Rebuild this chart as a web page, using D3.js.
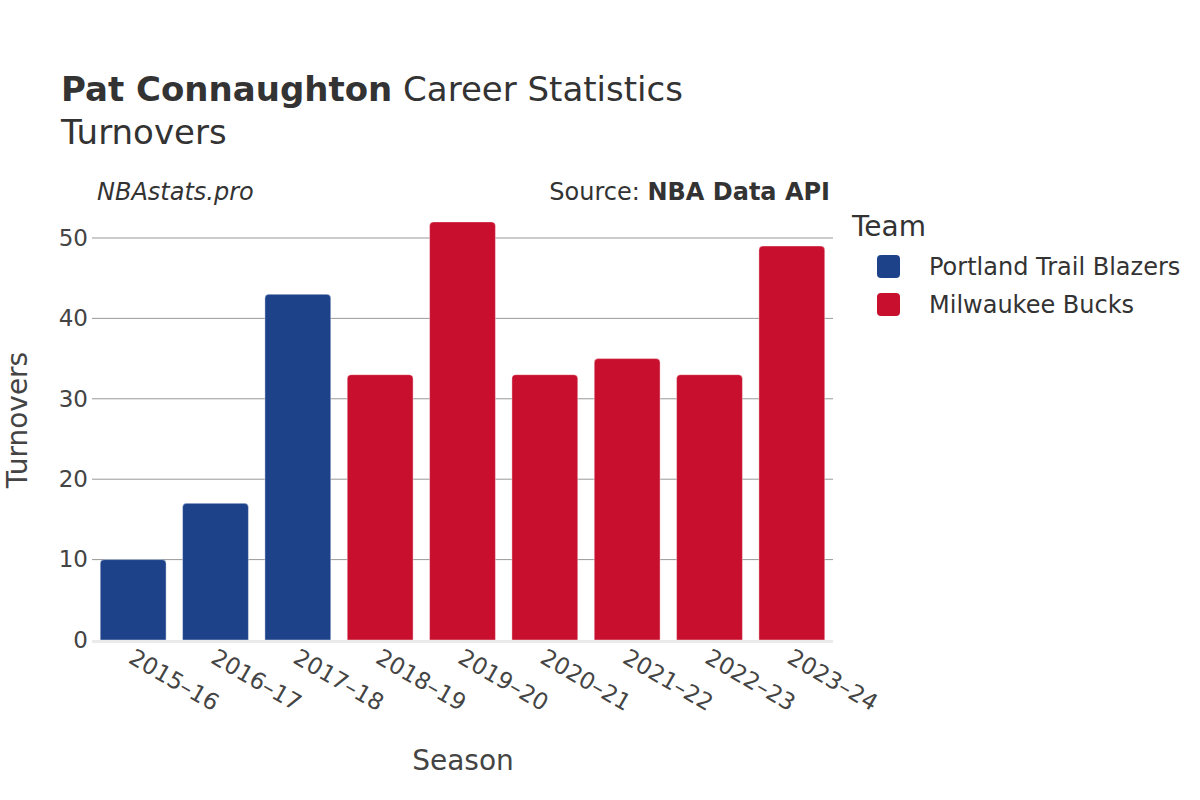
<!DOCTYPE html>
<html>
<head>
<meta charset="utf-8">
<style>
  body { margin: 0; background: #fff; }
  svg text { font-family: "DejaVu Sans", sans-serif; }
</style>
</head>
<body>
<script src="https://cdn.jsdelivr.net/npm/d3@7"></script>
<script>
// data
var seasons = ["2015–16","2016–17","2017–18","2018–19","2019–20","2020–21","2021–22","2022–23","2023–24"];
var teams = ["Portland Trail Blazers","Portland Trail Blazers","Portland Trail Blazers","Milwaukee Bucks","Milwaukee Bucks","Milwaukee Bucks","Milwaukee Bucks","Milwaukee Bucks","Milwaukee Bucks"];
var turnovers = [10, 17, 43, 33, 52, 33, 35, 33, 49];
var teamNames = ["Portland Trail Blazers", "Milwaukee Bucks"];
var teamColors = ["#1d428a", "#c8102e"];
var yTicks = [0, 10, 20, 30, 40, 50];

var width = 1200, height = 800;
var plot = {left: 92, right: 833, top: 201, bottom: 640};

var svg = d3.select("body").append("svg")
  .attr("width", width)
  .attr("height", height);

var x = d3.scaleBand().domain(seasons).range([plot.left, plot.right]).paddingInner(0.2).paddingOuter(0.1);
var y = d3.scaleLinear().domain([0, 54.6]).range([plot.bottom, plot.top]);
var color = d3.scaleOrdinal().domain(teamNames).range(teamColors);

// gridlines
svg.append("g")
  .selectAll("line")
  .data(yTicks.filter(function(d){ return d > 0; }))
  .enter().append("line")
  .attr("x1", plot.left).attr("x2", plot.right)
  .attr("y1", function(d){ return y(d); })
  .attr("y2", function(d){ return y(d); })
  .attr("stroke", "#999").attr("stroke-width", 1);

// bars, rounded top corners only
var r = 4;
function barPath(d, i) {
  var x0 = x(seasons[i]), w = x.bandwidth();
  var y0 = y(d), y1 = y(0);
  return "M" + x0 + "," + y1 +
    "V" + (y0 + r) +
    "Q" + x0 + "," + y0 + " " + (x0 + r) + "," + y0 +
    "H" + (x0 + w - r) +
    "Q" + (x0 + w) + "," + y0 + " " + (x0 + w) + "," + (y0 + r) +
    "V" + y1 + "Z";
}
svg.append("g")
  .selectAll("path")
  .data(turnovers)
  .enter().append("path")
  .attr("d", barPath)
  .attr("fill", function(d, i){ return color(teams[i]); })
  .attr("stroke", "#fff").attr("stroke-opacity", 0.4).attr("stroke-width", 1);

// zero line
svg.append("line")
  .attr("x1", plot.left).attr("x2", plot.right)
  .attr("y1", y(0) + 1.5).attr("y2", y(0) + 1.5)
  .attr("stroke", "#ebebeb").attr("stroke-width", 3);

// y axis
var yAxis = svg.append("g")
  .attr("transform", "translate(" + plot.left + ",0)")
  .call(d3.axisLeft(y).tickValues(yTicks).tickSize(0).tickPadding(4));
yAxis.select(".domain").remove();
yAxis.selectAll("text")
  .attr("font-size", 23).attr("fill", "#444")
  .attr("font-family", "DejaVu Sans, sans-serif");

// x axis
var xAxis = svg.append("g")
  .attr("transform", "translate(0," + plot.bottom + ")")
  .call(d3.axisBottom(x).tickSize(0).tickPadding(0));
xAxis.select(".domain").remove();
xAxis.selectAll("text")
  .attr("font-size", 23).attr("fill", "#444")
  .attr("font-family", "DejaVu Sans, sans-serif")
  .attr("text-anchor", "start")
  .attr("dy", null)
  .attr("transform", "translate(-6,22) rotate(30)");

// axis titles
svg.append("text")
  .attr("x", 463).attr("y", 770)
  .attr("text-anchor", "middle")
  .attr("font-size", 28).attr("fill", "#444")
  .text("Season");
svg.append("text")
  .attr("transform", "translate(27,420) rotate(-90)")
  .attr("text-anchor", "middle")
  .attr("font-size", 28).attr("fill", "#444")
  .text("Turnovers");

// titles
var title = svg.append("text")
  .attr("x", 61).attr("y", 101)
  .attr("font-size", 34).attr("fill", "#333");
title.append("tspan").attr("font-weight", "bold").text("Pat Connaughton");
title.append("tspan").text(" Career Statistics");
svg.append("text")
  .attr("x", 61).attr("y", 144)
  .attr("font-size", 34).attr("fill", "#333")
  .text("Turnovers");

svg.append("text")
  .attr("x", 97).attr("y", 200)
  .attr("font-size", 24).attr("font-style", "italic").attr("fill", "#333")
  .text("NBAstats.pro");
var src = svg.append("text")
  .attr("x", 830).attr("y", 200)
  .attr("text-anchor", "end")
  .attr("font-size", 24).attr("fill", "#333");
src.append("tspan").text("Source: ");
src.append("tspan").attr("font-weight", "bold").text("NBA Data API");

// legend
svg.append("text")
  .attr("x", 852).attr("y", 236)
  .attr("font-size", 28).attr("fill", "#333")
  .text("Team");
var legend = svg.append("g")
  .selectAll("g")
  .data(teamNames)
  .enter().append("g")
  .attr("transform", function(d, i){ return "translate(877," + (255 + i * 38) + ")"; });
legend.append("rect")
  .attr("width", 23).attr("height", 23).attr("rx", 4)
  .attr("fill", function(d){ return color(d); });
legend.append("text")
  .attr("x", 52).attr("y", 11.5).attr("dy", "0.35em")
  .attr("font-size", 24).attr("fill", "#333")
  .text(function(d){ return d; });
</script>
</body>
</html>
